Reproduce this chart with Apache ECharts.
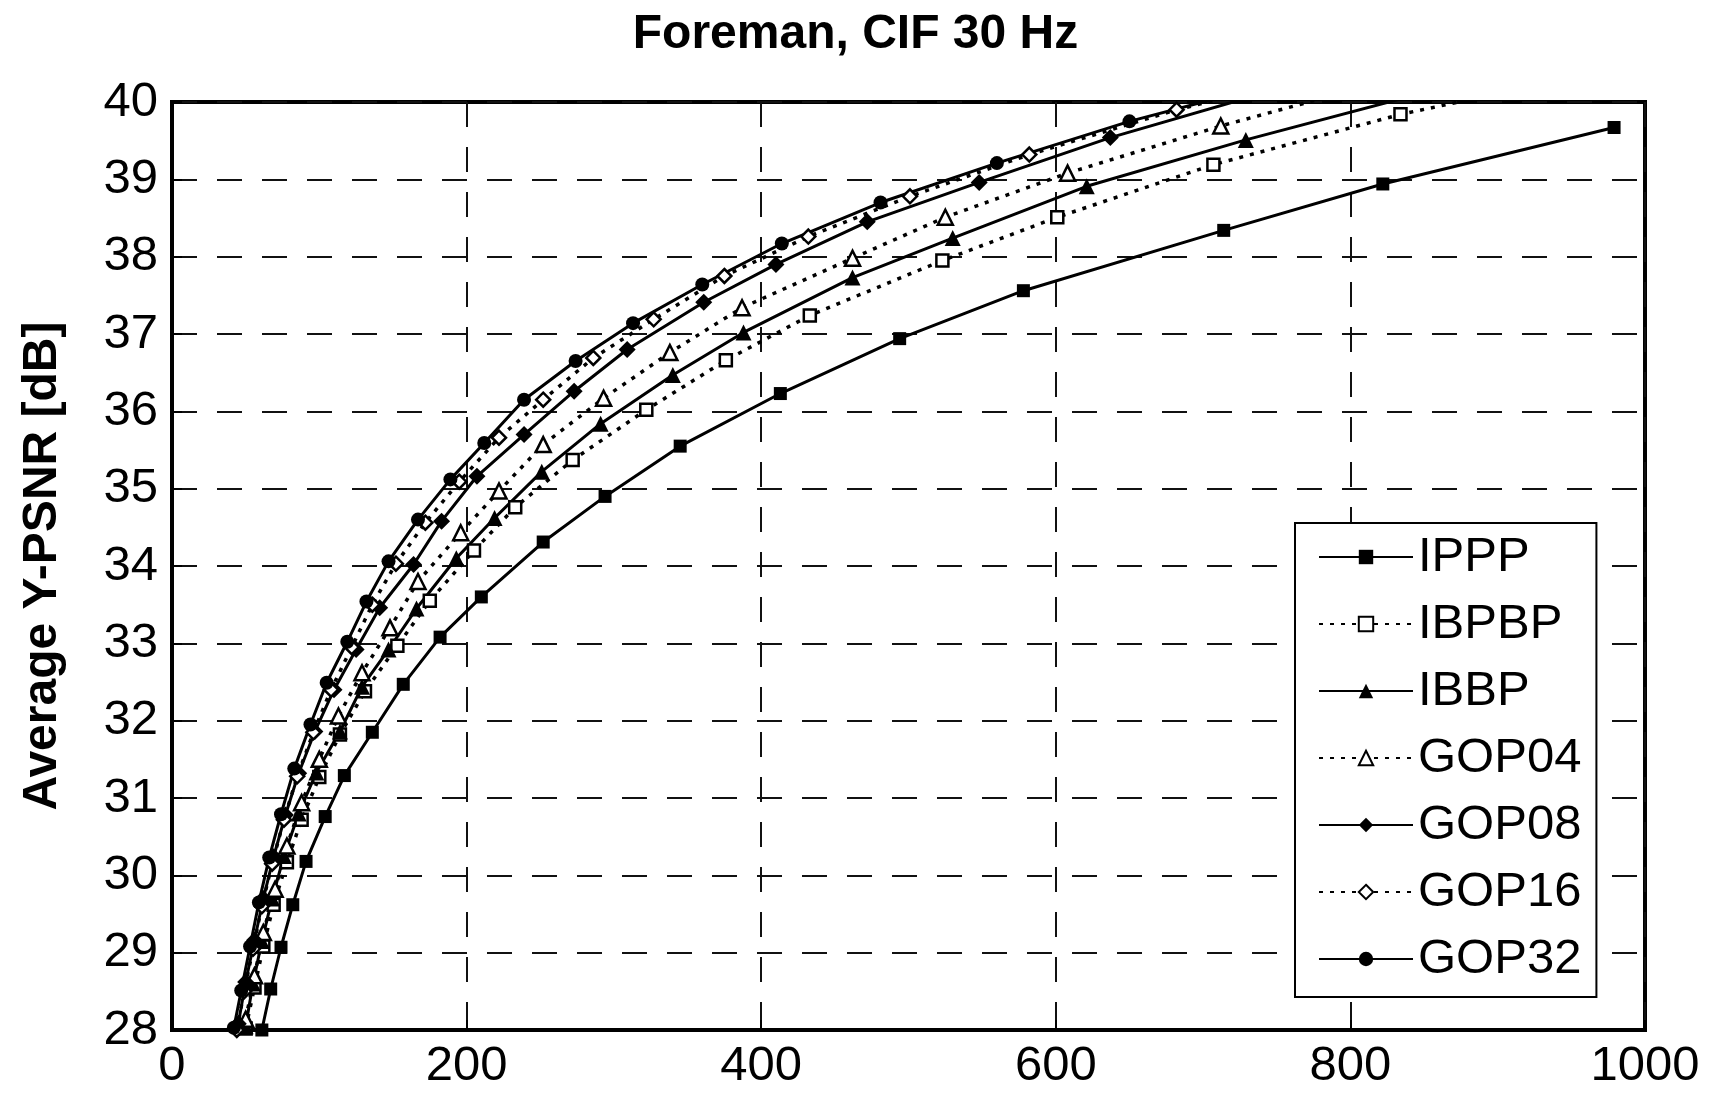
<!DOCTYPE html>
<html>
<head>
<meta charset="utf-8">
<script src="https://cdn.jsdelivr.net/npm/echarts@6/dist/echarts.min.js"></script>
<style>
  html, body { margin: 0; padding: 0; background: #fff; }
  #chart { width: 1711px; height: 1093px; }
</style>
</head>
<body>
<div id="chart"></div>
<script>
// rate (kbit/s) and Y-PSNR (dB)
let ipppRate = [61, 67, 74, 82, 91, 104, 117, 136, 157, 182, 210, 252, 294, 345, 413, 494, 578, 714, 822, 979]
let ipppPsnr = [28.0, 28.53, 29.07, 29.62, 30.18, 30.76, 31.29, 31.85, 32.47, 33.08, 33.6, 34.31, 34.9, 35.55, 36.23, 36.94, 37.56, 38.34, 38.94, 39.67]

let ibpbpRate = [50, 56, 62, 69, 78, 88, 100, 114, 131, 153, 175, 205, 233, 272, 322, 376, 433, 523, 601, 707, 834, 985]
let ibpbpPsnr = [28.02, 28.55, 29.08, 29.62, 30.17, 30.72, 31.27, 31.82, 32.38, 32.97, 33.55, 34.2, 34.76, 35.37, 36.02, 36.66, 37.24, 37.95, 38.51, 39.19, 39.84, 40.45]

let ibbpRate = [50, 55, 61, 68, 76, 86, 98, 114, 129, 147, 166, 193, 219, 251, 291, 340, 388, 462, 530, 621, 729, 850]
let ibbpPsnr = [28.05, 28.6, 29.15, 29.7, 30.25, 30.8, 31.33, 31.86, 32.44, 32.92, 33.45, 34.1, 34.62, 35.22, 35.84, 36.47, 37.02, 37.73, 38.24, 38.91, 39.51, 40.12]

let gop04Rate = [50, 56, 62, 70, 78, 88, 100, 113, 129, 148, 167, 196, 222, 252, 293, 338, 387, 462, 525, 608, 712, 820]
let gop04Psnr = [28.14, 28.7, 29.26, 29.82, 30.38, 30.94, 31.5, 32.06, 32.62, 33.2, 33.8, 34.43, 34.97, 35.57, 36.17, 36.76, 37.34, 37.98, 38.51, 39.08, 39.69, 40.25]

let gop08Rate = [45, 50, 56, 62, 69, 77, 86, 97, 110, 125, 141, 164, 183, 207, 239, 273, 309, 361, 410, 472, 548, 637, 735]
let gop08Psnr = [28.08, 28.62, 29.16, 29.7, 30.24, 30.78, 31.32, 31.86, 32.4, 32.92, 33.46, 34.02, 34.58, 35.16, 35.7, 36.26, 36.8, 37.41, 37.9, 38.45, 38.96, 39.54, 40.08]

let gop16Rate = [44, 49, 55, 61, 68, 76, 85, 96, 108, 122, 136, 152, 172, 195, 222, 252, 286, 327, 375, 432, 501, 582, 682, 790]
let gop16Psnr = [28.0, 28.5, 29.05, 29.6, 30.15, 30.72, 31.28, 31.85, 32.4, 32.95, 33.5, 34.03, 34.56, 35.09, 35.66, 36.15, 36.69, 37.19, 37.75, 38.26, 38.78, 39.32, 39.9, 40.4]

let gop32Rate = [42, 47, 53, 59, 66, 74, 83, 94, 105, 119, 132, 147, 167, 189, 212, 239, 274, 313, 360, 414, 481, 560, 650, 750]
let gop32Psnr = [28.03, 28.51, 29.08, 29.65, 30.23, 30.79, 31.38, 31.95, 32.49, 33.02, 33.54, 34.06, 34.6, 35.12, 35.59, 36.15, 36.65, 37.14, 37.64, 38.17, 38.7, 39.21, 39.75, 40.25]

let xTicks = [0, 200, 400, 600, 800, 1000]
let yTicks = [28, 29, 30, 31, 32, 33, 34, 35, 36, 37, 38, 39, 40]

function pairs(rate, psnr){
	return rate.map((r, i) => [r, psnr[i]])
}

let font = 'Liberation Sans, Arial, sans-serif'
let dotted = [4, 7]

function curve(name, rate, psnr, symbol, size, filled, dashed){
	return {
		name: name,
		type: 'line',
		data: pairs(rate, psnr),
		symbol: symbol,
		symbolSize: size,
		clip: true,
		lineStyle: { color: '#000', width: dashed ? 3.5 : 3, type: dashed ? dotted : 'solid' },
		itemStyle: {
			color: filled ? '#000' : '#fff',
			borderColor: '#000',
			borderWidth: filled ? 0 : 2.5
		},
		emphasis: { disabled: true },
		animation: false
	}
}

let chart = echarts.init(document.getElementById('chart'))
let option = {
	backgroundColor: '#fff',
	animation: false,
	title: {
		text: 'Foreman, CIF 30 Hz',
		left: 'center',
		top: 6,
		textStyle: { fontFamily: font, fontSize: 48, fontWeight: 'bold', color: '#000' }
	},
	grid: {
		left: 172, top: 102, width: 1473, height: 928,
		show: true, borderColor: '#000', borderWidth: 4, backgroundColor: '#fff'
	},
	legend: {
		orient: 'vertical',
		left: 1295,
		top: 523,
		padding: [9, 15, 13, 23],
		itemWidth: 94,
		itemHeight: 18,
		itemGap: 17,
		backgroundColor: '#fff',
		borderColor: '#000',
		borderWidth: 2,
		borderRadius: 0,
		textStyle: { fontFamily: font, fontSize: 49, lineHeight: 50, color: '#000' },
		data: ['IPPP', 'IBPBP', 'IBBP', 'GOP04', 'GOP08', 'GOP16', 'GOP32']
	},
	xAxis: {
		type: 'value',
		min: xTicks[0],
		max: xTicks[xTicks.length - 1],
		interval: 200,
		axisLine: { show: true, lineStyle: { color: '#000', width: 4 } },
		axisTick: { show: true, inside: true, length: 10, lineStyle: { color: '#000', width: 2 } },
		axisLabel: { fontFamily: font, fontSize: 49, color: '#000', margin: 12, formatter: v => String(v) },
		splitLine: { show: true, lineStyle: { color: '#111', width: 2, type: [25, 20] } }
	},
	yAxis: {
		type: 'value',
		min: yTicks[0],
		max: yTicks[yTicks.length - 1],
		interval: 1,
		name: 'Average Y-PSNR [dB]',
		nameLocation: 'middle',
		nameGap: 105,
		nameTextStyle: { fontFamily: font, fontSize: 48, fontWeight: 'bold', color: '#000' },
		axisLine: { show: true, lineStyle: { color: '#000', width: 4 } },
		axisTick: { show: true, inside: true, length: 10, lineStyle: { color: '#000', width: 2 } },
		axisLabel: { fontFamily: font, fontSize: 49, color: '#000', margin: 14 },
		splitLine: { show: true, lineStyle: { color: '#111', width: 2, type: [25, 20] } }
	},
	series: [
		curve('IPPP', ipppRate, ipppPsnr, 'rect', 13, true, false),
		curve('IBPBP', ibpbpRate, ibpbpPsnr, 'rect', 12, false, true),
		curve('IBBP', ibbpRate, ibbpPsnr, 'triangle', 16, true, false),
		curve('GOP04', gop04Rate, gop04Psnr, 'triangle', 15, false, true),
		curve('GOP08', gop08Rate, gop08Psnr, 'diamond', 17, true, false),
		curve('GOP16', gop16Rate, gop16Psnr, 'diamond', 14, false, true),
		curve('GOP32', gop32Rate, gop32Psnr, 'circle', 14, true, false)
	]
}
chart.setOption(option)
</script>
</body>
</html>
